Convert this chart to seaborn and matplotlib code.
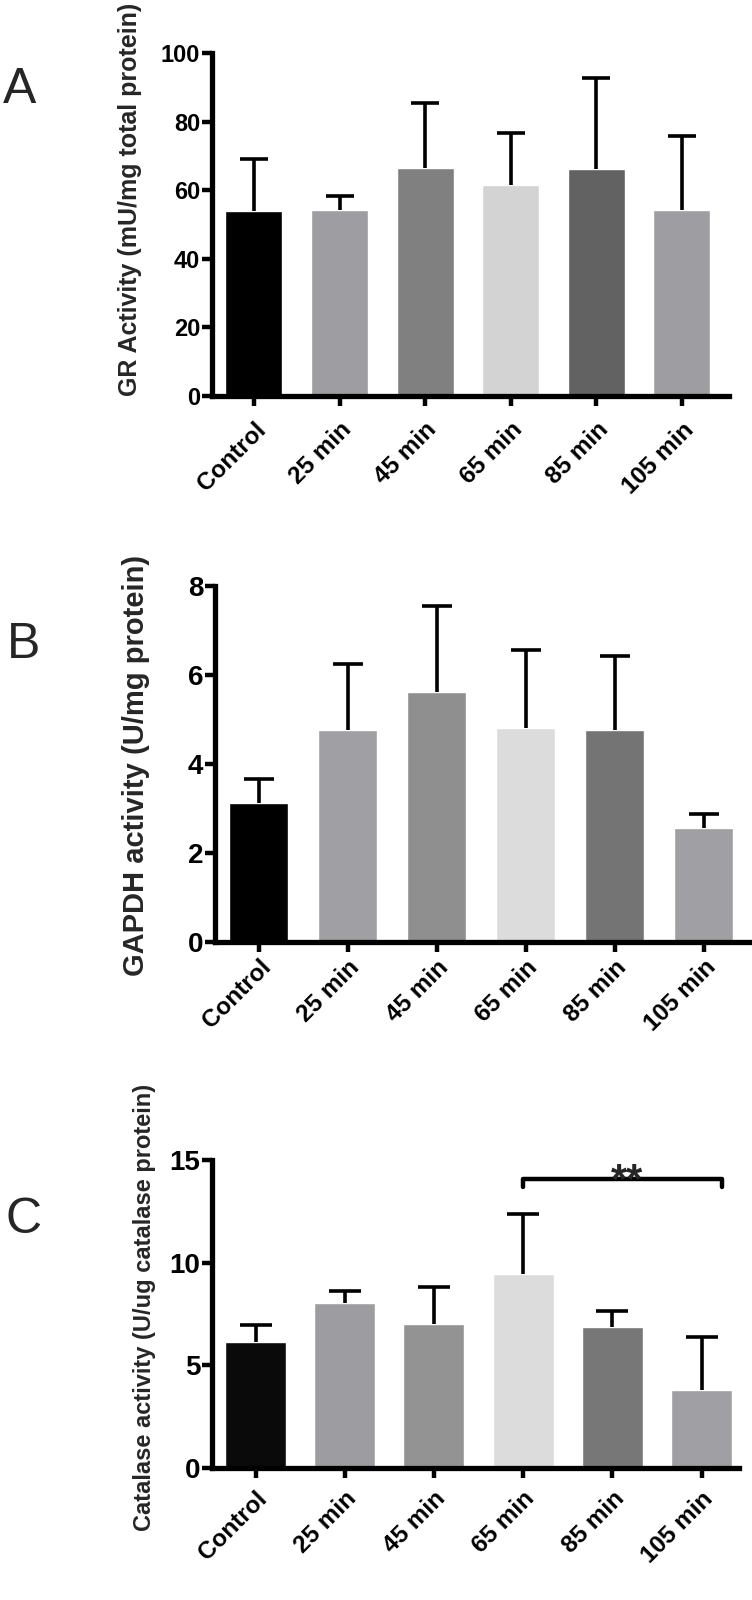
"""
Three stacked bar charts (GR, GAPDH and catalase activity) with
upward-only SD error bars, drawn with seaborn.
"""

import numpy as np
import matplotlib
matplotlib.use("Agg")
import matplotlib.pyplot as plt
import matplotlib.transforms as mtransforms
import seaborn as sns

# ---- data -------------------------------------------------------------
groups = ["Control", "25 min", "45 min", "65 min", "85 min", "105 min"]

gr_mean = [53.9, 54.1, 66.6, 61.5, 66.3, 54.1]
gr_sd = [15.3, 4.3, 18.8, 15.2, 26.3, 21.8]

gapdh_mean = [3.13, 4.76, 5.61, 4.80, 4.76, 2.56]
gapdh_sd = [0.52, 1.48, 1.94, 1.77, 1.67, 0.31]

cat_mean = [6.11, 8.01, 6.99, 9.44, 6.84, 3.80]
cat_sd = [0.85, 0.62, 1.80, 2.93, 0.81, 2.59]

colors_a = ["#000000", "#9e9ea2", "#808080", "#d3d3d3", "#626262", "#9e9ea2"]
colors_b = ["#000000", "#a0a0a4", "#8f8f8f", "#dcdcdc", "#747474", "#a0a0a4"]
colors_c = ["#0a0a0a", "#9d9da1", "#939393", "#dcdcdc", "#777777", "#a0a0a4"]

sns.set_style("ticks")
plt.rcParams["font.family"] = ["Liberation Sans", "DejaVu Sans"]

fig = plt.figure(figsize=(7.52, 16), dpi=100)


def draw_panel(rect, means, sds, colors, width, ylim, yticks, xlim,
               ytick_size, xpad, xshift, capsize):
    ax = fig.add_axes(rect)
    sns.barplot(x=groups, y=means, hue=groups, palette=colors,
                saturation=1, width=width, legend=False, ax=ax, zorder=2)
    x = np.arange(len(groups))
    # error bar only above the bar, so hide the lower cap
    eb = ax.errorbar(x, means, yerr=[np.zeros(len(sds)), sds], fmt="none",
                     ecolor="black", elinewidth=2.6, capsize=capsize,
                     capthick=2.6, zorder=3)
    eb[1][0].set_visible(False)
    ax.set_ylim(*ylim)
    ax.set_xlim(*xlim)
    ax.set_yticks(yticks)
    ax.set_yticklabels([str(t) for t in yticks], fontsize=ytick_size,
                       fontweight="bold")
    ax.set_xticks(x)
    ax.set_xticklabels(groups, rotation=45, ha="right", va="top",
                       rotation_mode="anchor", fontsize=17.5,
                       fontweight="bold")
    shift = mtransforms.ScaledTranslation(xshift / 100, 0, fig.dpi_scale_trans)
    for lab in ax.get_xticklabels():
        lab.set_transform(lab.get_transform() + shift)
    sns.despine(ax=ax)
    for s in ("left", "bottom"):
        ax.spines[s].set_linewidth(3.8)
        ax.spines[s].set_color("black")
    ax.tick_params(axis="y", length=7.5, width=3.2, pad=1, colors="black")
    ax.tick_params(axis="x", length=7, width=3.2, pad=xpad, colors="black")
    ax.set_xlabel("")
    ax.set_ylabel("")
    ax.grid(False)
    return ax


W, H = 752, 1600

ax_a = draw_panel([212 / W, 1 - 396 / H, (729 - 212) / W, (396 - 53) / H],
                  gr_mean, gr_sd, colors_a, 0.666, (0, 100),
                  [0, 20, 40, 60, 80, 100], (-0.49, 5.55), 17, 9, 5, 10)

ax_b = draw_panel([215 / W, 1 - 941.7 / H, (751 - 215) / W, (941.7 - 586) / H],
                  gapdh_mean, gapdh_sd, colors_b, 0.663, (0, 8),
                  [0, 2, 4, 6, 8], (-0.494, 5.53), 20, 3, 9, 11)

ax_c = draw_panel([212 / W, 1 - 1467.7 / H, (739 - 212) / W, (1467.7 - 1160) / H],
                  cat_mean, cat_sd, colors_c, 0.684, (0, 15),
                  [0, 5, 10, 15], (-0.488, 5.42), 20, 7, 7, 11.5)

# significance bracket between 65 min and 105 min
ax_c.plot([3.0, 3.0, 5.23, 5.23], [13.68, 14.07, 14.07, 13.68],
          color="black", lw=3.2, clip_on=False, solid_joinstyle="round")
ax_c.text(4.16, 13.45, "**", ha="center", va="baseline", fontsize=30,
          fontweight="bold", clip_on=False)

# y axis titles
fig.text(130 / W, 1 - 199 / H, "GR Activity (mU/mg total protein)",
         rotation=90, ha="center", va="center", fontsize=18,
         fontweight="bold")
fig.text(136 / W, 1 - 765 / H, "GAPDH activity (U/mg protein)",
         rotation=90, ha="center", va="center", fontsize=21,
         fontweight="bold")
fig.text(144 / W, 1 - 1307 / H, "Catalase activity (U/ug catalase protein)",
         rotation=90, ha="center", va="center", fontsize=17,
         fontweight="bold")

# panel letters
for letter, (px, py) in zip("ABC", [(20, 90), (24, 645), (24, 1220)]):
    fig.text(px / W, 1 - py / H, letter, ha="center", va="center",
             fontsize=36)

fig.savefig("out.png", dpi=100)
